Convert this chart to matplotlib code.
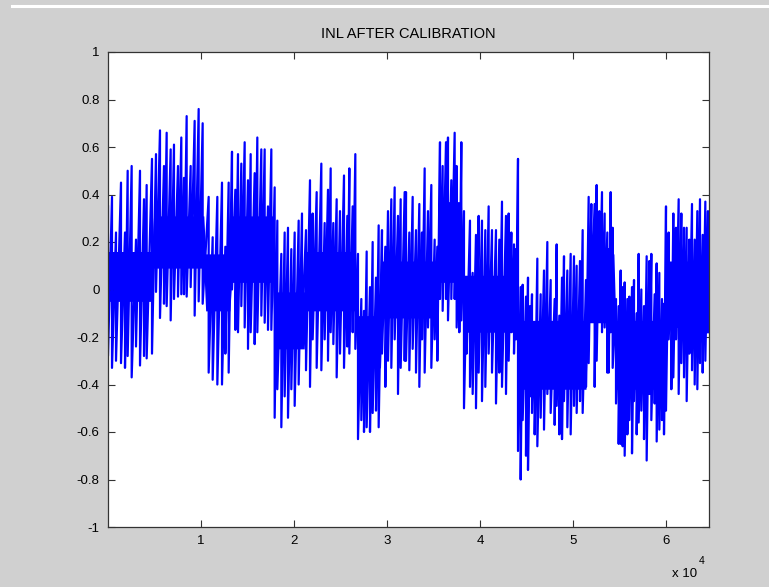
import numpy as np
import matplotlib
matplotlib.use("Agg")
import matplotlib.pyplot as plt
from matplotlib.lines import Line2D

plt.rcParams['font.family'] = ['Liberation Sans', 'DejaVu Sans']

# code position, upper spike value, lower spike value
codes = [0, 430, 860, 1398, 1828, 2115, 2545, 3011, 3441, 3871, 4157, 4731, 5161, 5591,
         6021, 6308, 6738, 7096, 7526, 7884, 8171, 8458, 8888, 9318, 9749, 10179,
         10825, 11255, 11757, 12258, 12617, 12975, 13334, 13692, 13979, 14337, 14696,
         15054, 15341, 15771, 16057, 16487, 16846, 17204, 17563, 17921, 18208, 18638,
         18996, 19355, 19713, 20072, 20502, 20860, 21290,
         21721, 22008, 22438, 22940, 23298, 23656, 23943, 24230, 24588, 24947, 25377,
         25735, 25950, 26309, 26595, 26882, 27240, 27527, 27814, 28172, 28459, 28817,
         29104, 29462, 29821, 30108, 30466, 30825, 31183, 31470, 31900,
         32043, 32401, 32760, 33118, 33477, 33763, 34050, 34409, 34767, 35125, 35412,
         35699, 35985, 36344, 36559, 36917, 37276, 37491, 37777, 37992, 38279, 38566,
         38924, 39211, 39569, 39856, 40215, 40573, 40931, 41290, 41720, 42078, 42365, 42795,
         43084, 43370, 43657, 43872, 44087, 44374, 44589, 44947, 45162, 45377, 45592,
         45879, 46166, 46524, 46883, 47241, 47600, 48030, 48245, 48531, 48818, 49033,
         49391, 49750, 50108, 50395, 50753, 51040, 51398, 51685, 51972, 52330, 52545,
         52832, 53119, 53405, 53692,
         53837, 54052, 54267, 54625, 54912, 55127, 55342, 55557, 55844, 56059, 56346,
         56561, 56847, 57062, 57349, 57636, 57922, 58209, 58424, 58782, 58998, 59284,
         59571, 59786, 60001, 60288, 60575, 60790, 61076, 61363, 61650, 61937, 62223,
         62510, 62797, 63084, 63370, 63657, 63944, 64231, 64517]

upper = [0.35, 0.39, 0.24, 0.45, 0.24, 0.50, 0.52, 0.21, 0.50, 0.38, 0.44, 0.55, 0.57, 0.67,
         0.52, 0.66, 0.59, 0.61, 0.52, 0.64, 0.47, 0.73, 0.52, 0.71, 0.76, 0.70,
         0.39, 0.22, 0.39, 0.45, 0.18, 0.45, 0.58, 0.42, 0.57, 0.53, 0.62,
         0.46, 0.57, 0.49, 0.64, 0.59, 0.59, 0.35, 0.59, 0.43, 0.29, 0.15,
         0.24, 0.26, 0.17, 0.24, 0.29, 0.32, 0.25,
         0.46, 0.32, 0.41, 0.53, 0.28, 0.42, 0.51, 0.28, 0.38, 0.33, 0.48,
         0.31, 0.51, 0.35, 0.57, 0.15, -0.04, -0.09, 0.16, 0.01, 0.20, 0.05,
         0.27, 0.25, 0.18, 0.33, 0.38, 0.43, 0.31, 0.38, 0.41,
         0.41, 0.24, 0.39, 0.25, 0.36, 0.24, 0.51, 0.33, 0.44, 0.21, 0.18,
         0.62, 0.52, 0.62, 0.64, 0.46, 0.66, 0.52, 0.22, 0.62, 0.33, 0.04,
         0.29, 0.07, 0.23, 0.31, 0.29, 0.25, 0.35, 0.25, 0.25, 0.21, 0.37, 0.31,
         0.32, 0.24, 0.19, 0.17, 0.55, 0.01, 0.02, -0.03, 0.05, -0.07, -0.02,
         -0.14, 0.13, -0.02, 0.08, 0.20, 0.04, -0.04, 0.19, -0.11, 0.05, 0.14,
         0.08, 0.15, 0.14, 0.10, 0.12, 0.25, 0.04, 0.39, 0.36, 0.36, 0.44,
         0.33, 0.41, 0.32, 0.24,
         0.17, 0.41, 0.26, -0.04, -0.07, 0.08, 0.01, 0.03, -0.04, -0.03, 0.01,
         0.04, -0.10, 0.15, 0.00, -0.07, 0.14, 0.12, 0.15, -0.02, 0.11, 0.07,
         -0.04, -0.06, 0.35, 0.24, 0.10, 0.32, 0.26, 0.38, 0.32, 0.26, 0.26,
         0.21, 0.36, 0.21, 0.33, 0.38, 0.23, 0.37, 0.33]

lower = [-0.28, -0.33, -0.30, -0.31, -0.33, -0.28, -0.37, -0.24, -0.32, -0.28, -0.29, -0.27, -0.01, -0.12,
         -0.06, -0.07, -0.13, -0.04, -0.03, -0.02, -0.02, -0.03, 0.01, -0.11, -0.05, -0.06,
         -0.35, -0.38, -0.40, -0.40, -0.27, -0.35, 0.00, -0.17, -0.18, -0.07, -0.16,
         -0.25, -0.18, -0.23, -0.18, -0.11, -0.14, -0.17, -0.17, -0.54, -0.42, -0.58,
         -0.45, -0.54, -0.42, -0.49, -0.40, -0.18, -0.34,
         -0.41, -0.21, -0.33, -0.34, -0.21, -0.30, -0.18, -0.23, -0.37, -0.27, -0.33,
         -0.24, -0.27, -0.18, -0.25, -0.63, -0.55, -0.60, -0.58, -0.60, -0.52, -0.51,
         -0.58, -0.27, -0.41, -0.30, -0.33, -0.21, -0.44, -0.33, -0.30,
         -0.30, -0.34, -0.25, -0.35, -0.41, -0.21, -0.35, -0.16, -0.33, -0.21, -0.30,
         -0.04, -0.09, -0.04, -0.13, -0.04, -0.04, -0.16, -0.18, -0.13, -0.50, -0.27,
         -0.41, -0.44, -0.50, -0.35, -0.47, -0.41, -0.27, -0.35, -0.48, -0.35, -0.41, -0.44,
         -0.30, -0.18, -0.27, -0.21, -0.68, -0.80, -0.55, -0.70, -0.76, -0.45, -0.52,
         -0.61, -0.66, -0.54, -0.59, -0.44, -0.52, -0.57, -0.49, -0.61, -0.63, -0.47,
         -0.58, -0.61, -0.49, -0.52, -0.47, -0.52, -0.41, -0.31, -0.04, -0.41, -0.30,
         -0.13, -0.18, -0.16, -0.35,
         -0.35, -0.18, -0.33, -0.48, -0.65, -0.65, -0.66, -0.70, -0.61, -0.55, -0.69,
         -0.47, -0.61, -0.56, -0.51, -0.63, -0.72, -0.44, -0.55, -0.48, -0.64, -0.59,
         -0.55, -0.61, -0.51, -0.21, -0.42, -0.37, -0.21, -0.44, -0.31, -0.37, -0.47,
         -0.27, -0.34, -0.40, -0.42, -0.31, -0.35, -0.30, -0.18]

# dense core band of the trace, per segment (start, end, top, bottom)
core_start = [0, 4900, 10500, 13300, 17900, 21300, 26800, 29500, 35600, 38200, 44100, 51600, 54600, 60000]
core_end = [4700, 10300, 13100, 17700, 21100, 26600, 29300, 35400, 38000, 43900, 51400, 54400, 59900, 64625]
core_top = [0.16, 0.31, 0.15, 0.31, -0.01, 0.16, -0.11, 0.12, 0.37, 0.06, -0.13, 0.15, -0.13, 0.12]
core_bot = [-0.05, 0.09, -0.09, 0.03, -0.25, -0.09, -0.33, -0.12, 0.03, -0.18, -0.42, -0.14, -0.42, -0.16]

xtick_vals = [10000, 20000, 30000, 40000, 50000, 60000]
xtick_labels = ['1', '2', '3', '4', '5', '6']
ytick_vals = [-1, -0.8, -0.6, -0.4, -0.2, 0, 0.2, 0.4, 0.6, 0.8, 1]

x = np.repeat(np.array(codes, dtype=float), 2)
y = np.column_stack((upper, lower)).ravel()

cx = np.column_stack((core_start, core_end)).ravel()
ct = np.repeat(core_top, 2)
cb = np.repeat(core_bot, 2)

bg = '#d0d0d0'
blue = '#0000ff'
fig = plt.figure(figsize=(7.69, 5.87), dpi=100, facecolor=bg)
ax = fig.add_axes([108 / 769, 60 / 587, 601 / 769, 475 / 587])
ax.fill_between(cx, cb, ct, color=blue, linewidth=0)
ax.plot(x, y, color=blue, linewidth=1.6)

ax.set_xlim(0, 64625)
ax.set_ylim(-1, 1)
ax.set_xticks(xtick_vals)
ax.set_xticklabels(xtick_labels)
ax.set_yticks(ytick_vals)
ax.set_yticklabels(['%g' % v for v in ytick_vals])
ax.tick_params(direction='in', length=5, width=0.8, color='#333333',
               top=True, right=True, labelsize=9.5, pad=6)
for s in ax.spines.values():
    s.set_linewidth(0.9)
    s.set_color('#333333')
ax.set_title('INL AFTER CALIBRATION', fontsize=10.5, pad=10)

fig.text(697 / 769, 1 - 574 / 587, 'x 10', ha='right', va='center', fontsize=9.5)
fig.text(699 / 769, 1 - 561 / 587, '4', ha='left', va='center', fontsize=7.5)

# white strip of the screenshot along the top
fig.add_artist(Line2D([12 / 769, 1], [1 - 5.5 / 587, 1 - 5.5 / 587],
                      color='white', linewidth=2.2, transform=fig.transFigure))

fig.savefig('out.png', dpi=100, facecolor=bg)
